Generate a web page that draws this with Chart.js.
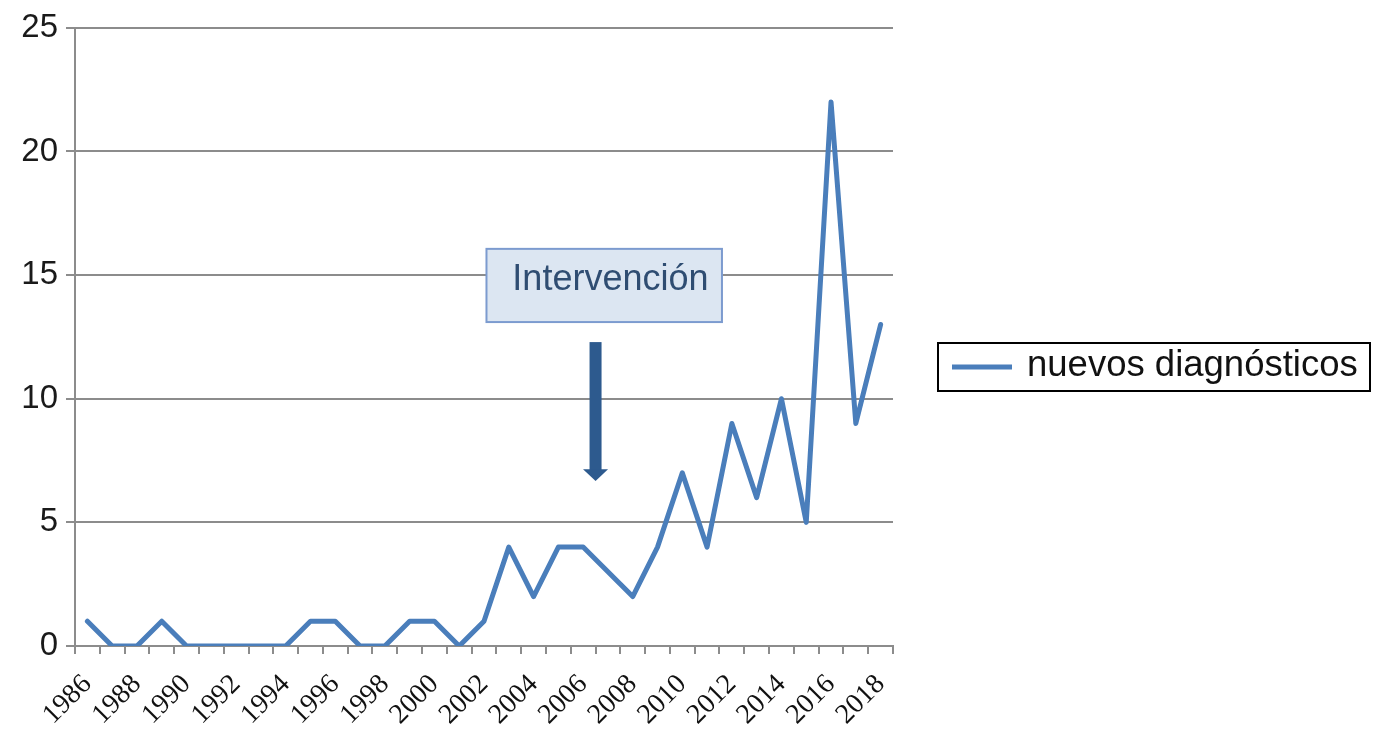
<!DOCTYPE html>
<html><head><meta charset="utf-8">
<script src="https://cdn.jsdelivr.net/npm/chart.js@4"></script>
<style>html,body{margin:0;padding:0;background:#fff}#wrap{width:1389px;height:730px;position:relative}</style>
</head><body><div id="wrap"><canvas id="c" width="1389" height="730"></canvas></div>
<script>
const years = ['1986','1987','1988','1989','1990','1991','1992','1993','1994','1995','1996','1997','1998','1999','2000','2001','2002','2003','2004','2005','2006','2007','2008','2009','2010','2011','2012','2013','2014','2015','2016','2017','2018'];
const diagnoses = [1,0,0,1,0,0,0,0,0,1,1,0,0,1,1,0,1,4,2,4,4,3,2,4,7,4,9,6,10,5,22,9,13];
const yTicks = [0,5,10,15,20,25];
const seriesName = 'nuevos diagnósticos';
const annotationText = 'Intervención';

const lineColor = '#4a7ebb';
const gridColor = '#8c8c8c';

const annotationPlugin = {
  id: 'intervencion',
  afterDatasetsDraw(chart) {
    const ctx = chart.ctx, x = chart.scales.x, y = chart.scales.y;
    const px = v => x.getPixelForValue(0) + v * (x.getPixelForValue(1) - x.getPixelForValue(0));
    const bx0 = px(16.1), bx1 = px(25.6), by0 = y.getPixelForValue(16.06), by1 = y.getPixelForValue(13.1);
    ctx.save();
    ctx.fillStyle = '#dce6f2';
    ctx.strokeStyle = '#7c9bcf';
    ctx.lineWidth = 2;
    ctx.fillRect(bx0, by0, bx1 - bx0, by1 - by0);
    ctx.strokeRect(bx0, by0, bx1 - bx0, by1 - by0);
    ctx.fillStyle = '#2f4d72';
    ctx.font = '36px "Liberation Sans", Arial, sans-serif';
    ctx.textAlign = 'center';
    ctx.textBaseline = 'middle';
    ctx.fillText(annotationText, px(21.1), y.getPixelForValue(14.8));
    const ax = px(20.5);
    const top = y.getPixelForValue(12.29), headBase = y.getPixelForValue(7.15), tip = y.getPixelForValue(6.67);
    ctx.fillStyle = '#2d5a8e';
    ctx.fillRect(ax - 6, top, 12, headBase - top + 1);
    ctx.beginPath();
    ctx.moveTo(ax - 12.5, headBase);
    ctx.lineTo(ax + 12.5, headBase);
    ctx.lineTo(ax, tip);
    ctx.closePath();
    ctx.fill();
    ctx.restore();
  }
};

const legendPlugin = {
  id: 'boxLegend',
  afterDraw(chart) {
    const ctx = chart.ctx;
    ctx.save();
    ctx.strokeStyle = '#000';
    ctx.lineWidth = 2;
    ctx.strokeRect(938, 343, 432, 48);
    ctx.strokeStyle = lineColor;
    ctx.lineWidth = 5;
    ctx.beginPath();
    ctx.moveTo(952, 367);
    ctx.lineTo(1012, 367);
    ctx.stroke();
    ctx.fillStyle = '#111';
    ctx.font = '36.5px "Liberation Sans", Arial, sans-serif';
    ctx.textAlign = 'left';
    ctx.textBaseline = 'middle';
    ctx.fillText(seriesName, 1027, 366);
    ctx.restore();
  }
};

new Chart(document.getElementById('c'), {
  type: 'line',
  data: {
    labels: years,
    datasets: [{
      label: seriesName,
      data: diagnoses,
      borderColor: lineColor,
      borderWidth: 5,
      pointRadius: 0,
      tension: 0,
      fill: false,
      borderJoinStyle: 'round',
      borderCapStyle: 'round'
    }]
  },
  options: {
    responsive: false,
    animation: false,
    layout: { padding: { top: 24, right: 496, left: 0, bottom: 0 } },
    plugins: { legend: { display: false }, tooltip: { enabled: false } },
    scales: {
      x: {
        offset: true,
        afterFit(s) { s.height = 84; },
        grid: { offset: true, drawOnChartArea: false, drawTicks: true, tickLength: 8, color: gridColor, lineWidth: 2 },
        border: { color: gridColor, width: 2 },
        ticks: {
          autoSkip: false, maxRotation: 45, minRotation: 45, padding: 14,
          color: '#111',
          font: { family: '"Liberation Serif", "Times New Roman", serif', size: 28 },
          callback: (v, i) => (i % 2 === 0 ? years[i] : '')
        }
      },
      y: {
        min: 0, max: 25,
        afterFit(s) { s.width = 75; },
        afterBuildTicks(s) { s.ticks = yTicks.map(v => ({ value: v })); },
        grid: { color: gridColor, lineWidth: 2, tickLength: 9 },
        border: { color: gridColor, width: 2 },
        ticks: {
          padding: 8, color: '#1a1a1a',
          font: { family: '"Liberation Sans", Arial, sans-serif', size: 33 }
        }
      }
    }
  },
  plugins: [annotationPlugin, legendPlugin]
});
</script>
</body></html>
